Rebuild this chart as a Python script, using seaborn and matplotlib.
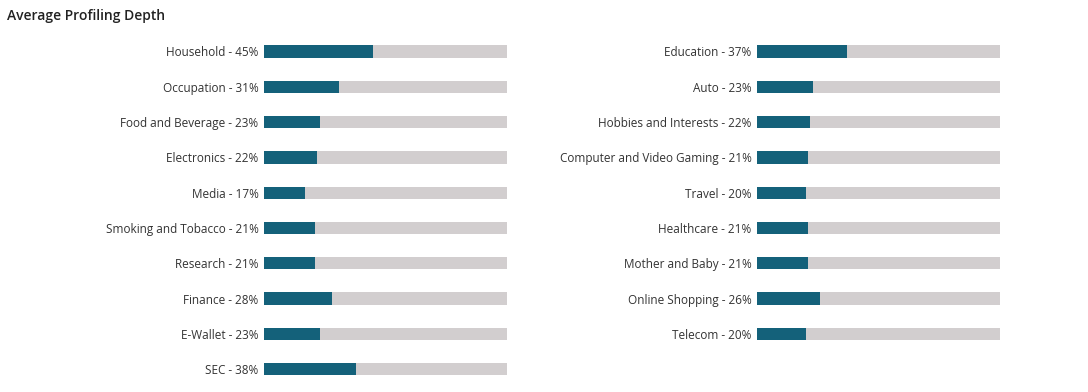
import matplotlib
matplotlib.use("Agg")
import matplotlib.pyplot as plt
import pandas as pd
import seaborn as sns

left_cats = ["Household", "Occupation", "Food and Beverage", "Electronics", "Media",
             "Smoking and Tobacco", "Research", "Finance", "E-Wallet", "SEC"]
left_vals = [45, 31, 23, 22, 17, 21, 21, 28, 23, 38]

right_cats = ["Education", "Auto", "Hobbies and Interests", "Computer and Video Gaming",
              "Travel", "Healthcare", "Mother and Baby", "Online Shopping", "Telecom"]
right_vals = [37, 23, 22, 21, 20, 21, 21, 26, 20]

teal = "#14617a"
track = "#d2cecf"

sns.set_theme(style="white")
plt.rcParams["font.family"] = ["Open Sans", "DejaVu Sans"]

fig = plt.figure(figsize=(10.88, 3.92), dpi=100)
W, H = 1088, 392
row = 35.3
top = 51.5 - row / 2
height = 10 * row


def panel(x0, cats, vals):
    ax = fig.add_axes([x0 / W, 1 - (top + height) / H, 243 / W, height / H])
    df = pd.DataFrame({
        "label": [f"{c} - {v}%" for c, v in zip(cats, vals)],
        "value": vals,
        "full": [100] * len(vals),
    })
    sns.barplot(data=df, x="full", y="label", color=track, width=0.35,
                saturation=1, linewidth=0, ax=ax)
    sns.barplot(data=df, x="value", y="label", color=teal, width=0.35,
                saturation=1, linewidth=0, ax=ax)
    ax.set_xlim(0, 100)
    ax.set_ylim(9.5, -0.5)
    ax.set_xlabel("")
    ax.set_ylabel("")
    ax.set_xticks([])
    ax.tick_params(axis="y", length=0, pad=4, labelsize=8.5, labelcolor="#333333")
    sns.despine(ax=ax, left=True, bottom=True)


panel(264, left_cats, left_vals)
panel(757, right_cats, right_vals)

fig.text(7 / W, 1 - 16 / H, "Average Profiling Depth", fontsize=10, fontweight="semibold",
         color="#222222", va="center", ha="left")

fig.savefig("out.png", dpi=100, facecolor="white")
